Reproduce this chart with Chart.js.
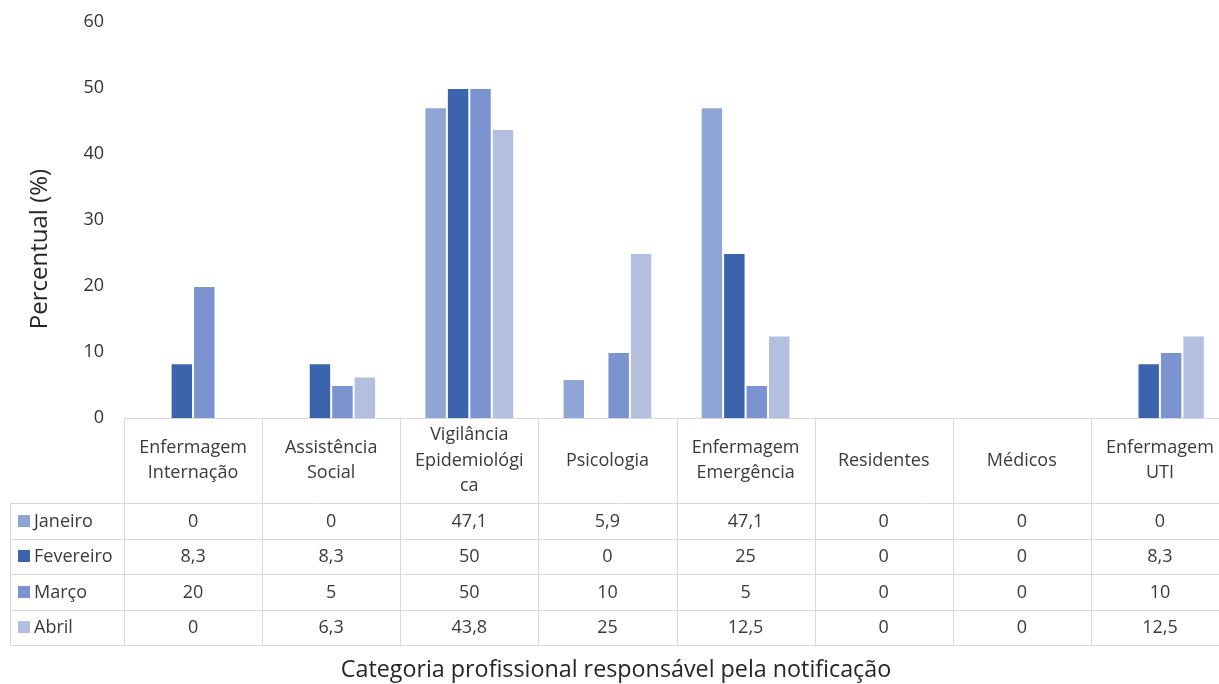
<!DOCTYPE html>
<html>
<head>
    <meta charset="utf-8">
    <title>Categoria profissional</title>
    <script src="https://cdn.jsdelivr.net/npm/chart.js"></script>
    <style>
        body { margin: 0; overflow: hidden; background: #fff; }
        #wrap { width: 1229px; height: 684px; }
    </style>
</head>
<body>
    <div id="wrap">
        <canvas id="barChart"></canvas>
    </div>

    <script>
        const categories = [
            ['Enfermagem', 'Internação'],
            ['Assistência', 'Social'],
            ['Vigilância', 'Epidemiológi', 'ca'],
            ['Psicologia'],
            ['Enfermagem', 'Emergência'],
            ['Residentes'],
            ['Médicos'],
            ['Enfermagem', 'UTI']
        ];
        const seriesNames = ['Janeiro', 'Fevereiro', 'Março', 'Abril'];
        const janeiro = [0, 0, 47.1, 5.9, 47.1, 0, 0, 0];
        const fevereiro = [8.3, 8.3, 50, 0, 25, 0, 0, 8.3];
        const marco = [20, 5, 50, 10, 5, 0, 0, 10];
        const abril = [0, 6.3, 43.8, 25, 12.5, 0, 0, 12.5];
        const seriesColors = ['#8fa5d5', '#3c64ad', '#7b93ce', '#b3bfdf'];
        const yMin = 0, yMax = 60, yStep = 10;
        const yTitle = 'Percentual (%)';
        const xTitle = 'Categoria profissional responsável pela notificação';

        const FONT = '"Open Sans", sans-serif';
        const allSeries = [janeiro, fevereiro, marco, abril];

        // data table under the plot, columns follow the x scale
        const dataTable = {
            id: 'dataTable',
            afterDraw(chart) {
                const ctx = chart.ctx;
                const xs = chart.scales.x;
                const area = chart.chartArea;
                const half = (xs.getPixelForValue(1) - xs.getPixelForValue(0)) / 2;
                const headH = 85, rowH = 35.5;
                const top = area.bottom;
                const legendLeft = 10;
                const bottom = top + headH + rowH * seriesNames.length;

                ctx.save();
                ctx.strokeStyle = '#d9d9d9';
                ctx.lineWidth = 1;
                ctx.beginPath();
                // header top line (axis)
                ctx.moveTo(area.left, Math.round(top) + 0.5);
                ctx.lineTo(chart.width, Math.round(top) + 0.5);
                // row lines
                for (let r = 0; r <= seriesNames.length; r++) {
                    const y = Math.round(top + headH + r * rowH) + 0.5;
                    ctx.moveTo(legendLeft, y);
                    ctx.lineTo(chart.width, y);
                }
                // column lines
                for (let i = 0; i <= categories.length; i++) {
                    const x = Math.round(xs.getPixelForValue(i) - half) + 0.5;
                    ctx.moveTo(x, Math.round(top));
                    ctx.lineTo(x, Math.round(bottom));
                }
                ctx.moveTo(legendLeft + 0.5, Math.round(top + headH));
                ctx.lineTo(legendLeft + 0.5, Math.round(bottom));
                ctx.stroke();

                ctx.fillStyle = '#3a3a3a';
                ctx.font = '18px ' + FONT;
                ctx.textAlign = 'center';
                ctx.textBaseline = 'middle';
                const lineH = 25.5;
                categories.forEach((lines, i) => {
                    const cx = xs.getPixelForValue(i);
                    const y0 = top + headH / 2 - (lines.length - 1) * lineH / 2;
                    lines.forEach((t, k) => ctx.fillText(t, cx, y0 + k * lineH));
                });

                seriesNames.forEach((name, r) => {
                    const cy = top + headH + r * rowH + rowH / 2;
                    ctx.fillStyle = seriesColors[r];
                    ctx.fillRect(18, Math.round(cy) - 6, 12, 12);
                    ctx.fillStyle = '#3a3a3a';
                    ctx.textAlign = 'left';
                    ctx.fillText(name, 34, cy + 1);
                    ctx.textAlign = 'center';
                    allSeries[r].forEach((v, i) => {
                        ctx.fillText(String(v).replace('.', ','), xs.getPixelForValue(i), cy + 1);
                    });
                });

                // axis titles
                ctx.fillStyle = '#262626';
                ctx.font = '23.3px ' + FONT;
                ctx.fillText(xTitle, 616, 670);
                ctx.font = '24px ' + FONT;
                ctx.translate(40, 249);
                ctx.rotate(-Math.PI / 2);
                ctx.fillText(yTitle, 0, 0);
                ctx.restore();
            }
        };

        new Chart(document.getElementById('barChart'), {
            type: 'bar',
            data: {
                labels: categories,
                datasets: seriesNames.map((name, i) => ({
                    label: name,
                    data: allSeries[i],
                    backgroundColor: seriesColors[i],
                    borderColor: 'rgba(255,255,255,0.55)',
                    borderWidth: 1,
                    categoryPercentage: 0.65,
                    barPercentage: 1.0
                }))
            },
            options: {
                responsive: true,
                maintainAspectRatio: false,
                animation: false,
                layout: { padding: { top: 22, bottom: 266, left: 0, right: 0 } },
                plugins: {
                    legend: { display: false },
                    tooltip: { enabled: false }
                },
                scales: {
                    x: { display: false },
                    y: {
                        min: yMin,
                        max: yMax,
                        afterFit: (s) => { s.width = 124; },
                        ticks: {
                            stepSize: yStep,
                            padding: 3,
                            color: '#333333',
                            font: { family: FONT, size: 18 }
                        },
                        grid: { display: false, drawTicks: true, tickLength: 17 },
                        border: { display: false }
                    }
                }
            },
            plugins: [dataTable]
        });
    </script>
</body>
</html>
